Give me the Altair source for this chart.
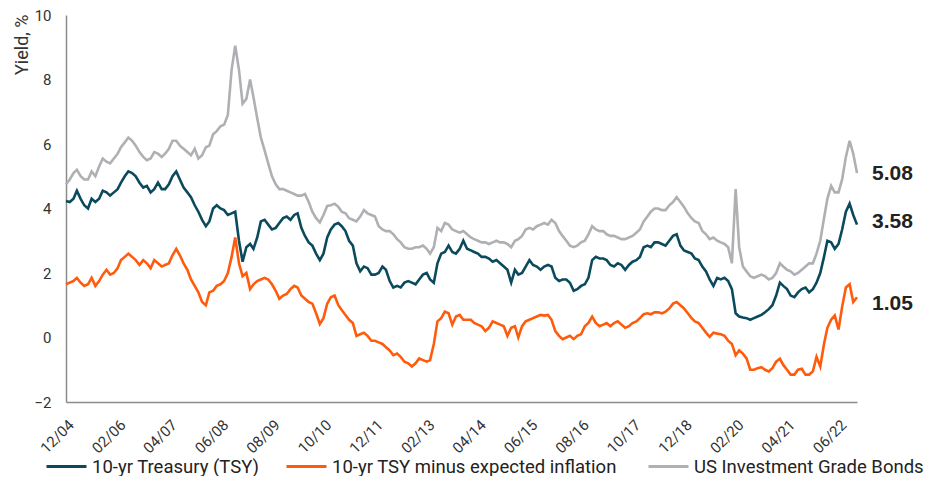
import altair as alt
import pandas as pd

# Monthly readings, Dec 2004 .. Nov 2022 (216 months)
tsy = [
    4.23, 4.2, 4.3, 4.55, 4.3, 4.1, 4.0, 4.3, 4.2, 4.3, 4.55, 4.5,
    4.4, 4.5, 4.6, 4.8, 5.0, 5.15, 5.1, 5.0, 4.8, 4.65, 4.7, 4.5,
    4.6, 4.8, 4.6, 4.6, 4.75, 5.0, 5.15, 4.9, 4.65, 4.5, 4.35, 4.1,
    3.9, 3.65, 3.45, 3.6, 4.0, 4.1, 4.0, 3.95, 3.8, 3.85, 3.9, 3.0,
    2.35, 2.8, 2.9, 2.75, 3.1, 3.6, 3.65, 3.5, 3.35, 3.4, 3.55, 3.7,
    3.75, 3.65, 3.8, 3.85, 3.4, 3.15, 2.95, 2.85, 2.6, 2.4, 2.6, 3.1,
    3.35, 3.5, 3.55, 3.45, 3.3, 3.0, 2.85, 2.3, 2.05, 2.2, 2.15, 1.95,
    1.95, 2.0, 2.2, 2.1, 1.75, 1.55, 1.6, 1.55, 1.7, 1.75, 1.7, 1.65,
    1.8, 1.95, 2.0, 1.8, 1.7, 2.3, 2.6, 2.65, 2.85, 2.65, 2.6, 2.75,
    3.0, 2.75, 2.7, 2.65, 2.6, 2.5, 2.5, 2.45, 2.35, 2.4, 2.3, 2.2,
    2.1, 1.7, 2.1, 1.95, 2.0, 2.2, 2.4, 2.25, 2.2, 2.1, 2.2, 2.25,
    2.2, 1.85, 1.75, 1.8, 1.8, 1.7, 1.45, 1.5, 1.6, 1.65, 1.85, 2.4,
    2.5, 2.45, 2.45, 2.4, 2.25, 2.2, 2.3, 2.25, 2.1, 2.25, 2.35, 2.4,
    2.5, 2.8, 2.85, 2.8, 2.95, 2.95, 2.9, 2.85, 3.0, 3.15, 3.2, 2.85,
    2.7, 2.65, 2.6, 2.45, 2.4, 2.2, 2.05, 1.8, 1.6, 1.85, 1.8, 1.85,
    1.75, 1.5, 0.75, 0.65, 0.62, 0.6, 0.55, 0.6, 0.65, 0.7, 0.78, 0.88,
    1.0, 1.3, 1.7, 1.6, 1.5, 1.3, 1.25, 1.4, 1.5, 1.55, 1.4, 1.5,
    1.7, 2.0, 2.5, 3.0, 2.95, 2.75, 2.9, 3.35, 3.9, 4.15, 3.8, 3.5,
]
real = [
    1.65, 1.7, 1.75, 1.85, 1.7, 1.6, 1.65, 1.85, 1.6, 1.75, 1.95, 2.1,
    1.95, 2.0, 2.15, 2.4, 2.5, 2.6, 2.5, 2.4, 2.25, 2.4, 2.3, 2.15,
    2.4, 2.3, 2.2, 2.25, 2.3, 2.55, 2.75, 2.55, 2.3, 2.1, 1.8, 1.6,
    1.4, 1.1, 1.0, 1.4, 1.45, 1.6, 1.65, 1.75, 2.0, 2.5, 3.1, 2.3,
    1.9, 2.0, 1.5, 1.65, 1.75, 1.8, 1.85, 1.8, 1.65, 1.45, 1.2, 1.3,
    1.35, 1.5, 1.6, 1.55, 1.3, 1.2, 1.1, 1.05, 0.75, 0.42, 0.6, 1.05,
    1.25, 1.3, 1.0, 0.85, 0.7, 0.55, 0.45, 0.05, 0.1, 0.15, 0.05, -0.1,
    -0.1, -0.15, -0.2, -0.3, -0.4, -0.55, -0.5, -0.6, -0.75, -0.8, -0.9, -0.8,
    -0.65, -0.7, -0.75, -0.7, -0.2, 0.5, 0.6, 0.8, 0.75, 0.4, 0.65, 0.7,
    0.55, 0.55, 0.55, 0.45, 0.4, 0.35, 0.2, 0.3, 0.5, 0.45, 0.4, 0.35,
    0.05, 0.3, 0.35, 0.0, 0.35, 0.5, 0.55, 0.6, 0.65, 0.7, 0.68, 0.7,
    0.55, 0.2, 0.05, -0.05, 0.0, 0.05, -0.05, 0.05, 0.1, 0.35, 0.45, 0.65,
    0.45, 0.35, 0.4, 0.45, 0.35, 0.45, 0.5, 0.4, 0.3, 0.35, 0.45, 0.5,
    0.6, 0.72, 0.75, 0.72, 0.78, 0.78, 0.75, 0.8, 0.9, 1.05, 1.1, 1.0,
    0.9, 0.75, 0.6, 0.5, 0.45, 0.3, 0.15, 0.02, 0.15, 0.12, 0.1, 0.05,
    -0.1, -0.2, -0.55, -0.4, -0.5, -0.65, -1.0, -1.0, -0.95, -0.92, -1.0, -1.05,
    -0.95, -0.75, -0.66, -0.85, -1.0, -1.15, -1.15, -1.0, -0.97, -1.15, -1.15, -1.05,
    -0.6, -0.9, -0.2, 0.3, 0.55, 0.68, 0.25, 0.95, 1.55, 1.65, 1.1, 1.25,
]
ig = [
    4.75, 4.9, 5.1, 5.2, 5.0, 4.9, 4.9, 5.15, 5.0, 5.3, 5.55, 5.45,
    5.4, 5.55, 5.7, 5.9, 6.05, 6.2, 6.1, 5.95, 5.75, 5.6, 5.5, 5.55,
    5.75, 5.7, 5.6, 5.7, 5.85, 6.1, 6.1, 5.95, 5.85, 5.75, 5.65, 5.85,
    5.55, 5.65, 5.9, 5.95, 6.3, 6.4, 6.55, 6.6, 6.9, 8.3, 9.05, 8.3,
    7.25, 7.4, 8.0, 7.45, 6.8, 6.2, 5.8, 5.4, 5.0, 4.75, 4.6, 4.6,
    4.55, 4.5, 4.45, 4.4, 4.4, 4.45, 4.2, 3.9, 3.7, 3.57, 3.8, 4.08,
    4.1, 4.15, 4.05, 3.9, 3.85, 3.7, 3.65, 3.6, 3.75, 3.95, 3.85, 3.8,
    3.75, 3.45, 3.35, 3.3, 3.3, 3.2, 3.05, 2.95, 2.8, 2.75, 2.75, 2.8,
    2.8, 2.85, 2.75, 2.6, 2.8, 3.4, 3.3, 3.55, 3.5, 3.35, 3.3, 3.25,
    3.3, 3.2, 3.1, 3.05, 3.0, 2.95, 2.95, 2.9, 2.95, 3.0, 2.95, 2.95,
    2.9, 2.8, 3.0, 3.05, 3.15, 3.35, 3.4, 3.35, 3.45, 3.5, 3.55, 3.5,
    3.65, 3.55, 3.3, 3.15, 3.0, 2.85, 2.8, 2.85, 2.95, 3.0, 3.2, 3.45,
    3.35, 3.3, 3.3, 3.2, 3.15, 3.15, 3.1, 3.05, 3.05, 3.1, 3.15, 3.25,
    3.35, 3.6, 3.75, 3.9, 4.0, 4.0, 3.95, 3.95, 4.1, 4.2, 4.35, 4.2,
    4.05, 3.85, 3.7, 3.6, 3.55, 3.3, 3.2, 3.05, 3.1, 3.0, 2.95, 2.9,
    2.8, 2.3, 4.6, 2.8, 2.2, 2.05, 1.9, 1.85, 1.9, 1.95, 1.9, 1.8,
    1.85, 2.0, 2.3, 2.2, 2.1, 2.05, 1.95, 2.0, 2.1, 2.2, 2.3, 2.3,
    2.6, 3.0, 3.7, 4.3, 4.7, 4.5, 4.5, 4.9, 5.6, 6.1, 5.7, 5.1,
]

series_names = [
    "10-yr Treasury (TSY)",
    "10-yr  TSY minus expected inflation",
    "US Investment Grade Bonds",
]
series_colors = ["#0b4a5d", "#ff5b0d", "#aeb0b3"]
end_values = [3.58, 1.05, 5.08]
tick_months = [
    (2004, 12), (2006, 2), (2007, 4), (2008, 6), (2009, 8), (2010, 10),
    (2011, 12), (2013, 2), (2014, 4), (2015, 6), (2016, 8), (2017, 10),
    (2018, 12), (2020, 2), (2021, 4), (2022, 6),
]
y_ticks = [-2, 0, 2, 4, 6, 8, 10]

dates = list(pd.date_range("2004-12-01", periods=len(tsy), freq="MS").strftime("%Y-%m-%dT00:00:00"))

rows = []
for name, vals in zip(series_names, [tsy, real, ig]):
    for d, v in zip(dates, vals):
        rows.append({"date": d, "value": v, "series": name})
df = pd.DataFrame(rows)

lab_df = pd.DataFrame({"date": [dates[-1]] * 3, "value": end_values, "series": series_names})

x_scale = alt.Scale(domain=[alt.DateTime(year=2004, month=12, date=1),
                            alt.DateTime(year=2022, month=11, date=1)])
y_scale = alt.Scale(domain=[-2, 10], nice=False)

x_axis = alt.Axis(
    values=[alt.DateTime(year=y, month=m, date=1) for y, m in tick_months],
    format="%m/%y", labelAngle=-45, ticks=False, grid=False, title=None,
    labelFontSize=15, labelPadding=15, labelColor="#333333", labelFont="Roboto",
    domainColor="#8c8c8c", domainWidth=1.5, labelOverlap=False)
y_axis = alt.Axis(
    values=y_ticks, ticks=False, grid=False, title="Yield, %",
    labelFontSize=15, labelPadding=15, labelColor="#333333", labelFont="Roboto",
    domainColor="#8c8c8c", domainWidth=1.5,
    titleFont="Roboto", titleFontSize=18, titleFontWeight="normal", titleColor="#333333",
    titleAnchor="end", titleAlign="right", titleBaseline="middle",
    titleX=-44, titleY=-1, titleAngle=-90)

lines = alt.Chart(df).mark_line(strokeWidth=2.6).encode(
    x=alt.X("date:T", scale=x_scale, axis=x_axis),
    y=alt.Y("value:Q", scale=y_scale, axis=y_axis),
    color=alt.Color("series:N", sort=series_names,
                    scale=alt.Scale(domain=series_names, range=series_colors),
                    legend=alt.Legend(title=None, orient="none", direction="horizontal",
                                      legendX=-21, legendY=430,
                                      symbolType="stroke", symbolSize=1600,
                                      symbolStrokeWidth=3, labelFontSize=18.5,
                                      labelFont="Roboto", labelColor="#222222",
                                      columnPadding=20, labelOffset=4, labelLimit=400)),
)

labels = alt.Chart(lab_df).mark_text(align="left", baseline="middle", dx=15,
                                     fontSize=21, fontWeight="bold",
                                     font="Liberation Sans", color="#222222").encode(
    x=alt.X("date:T", scale=x_scale, axis=x_axis),
    y=alt.Y("value:Q", scale=y_scale, axis=y_axis),
    text=alt.Text("value:Q", format=".2f"),
)

chart = (lines + labels).properties(
    width=791, height=387,
    autosize=alt.AutoSizeParams(type="none"),
    padding={"left": 58, "top": 7, "right": 81, "bottom": 74},
).configure_view(stroke=None)

chart.save("out.html", embed_options={"renderer": "svg", "actions": False})
